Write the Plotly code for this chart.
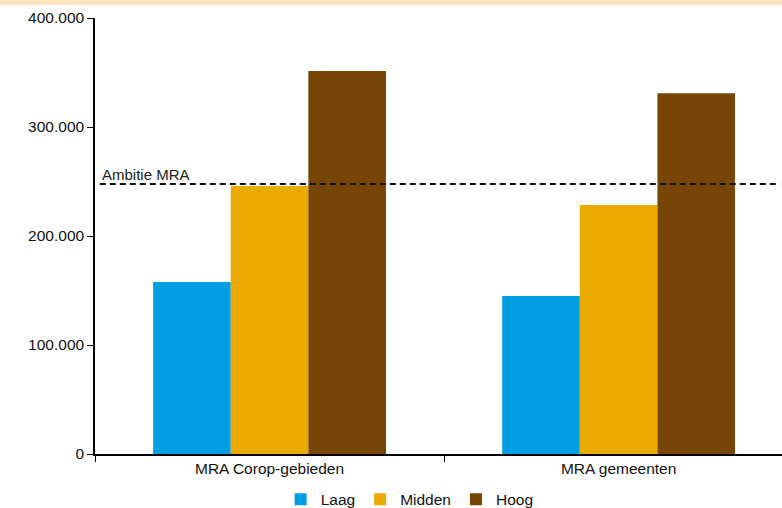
import plotly.graph_objects as go

categories = ["MRA Corop-gebieden", "MRA gemeenten"]
series_names = ["Laag", "Midden", "Hoog"]
laag = [157800, 145000]
midden = [245900, 228400]
hoog = [351400, 331000]
ambitie = 247700
ambitie_label = "Ambitie MRA"
tick_vals = [0, 100000, 200000, 300000, 400000]
tick_text = ["0", "100.000", "200.000", "300.000", "400.000"]

colors = ["#009FE3", "#EAAA00", "#774607"]
values = [laag, midden, hoog]

fig = go.Figure()
for name, vals, col in zip(series_names, values, colors):
    fig.add_trace(go.Bar(x=categories, y=vals, name=name, marker=dict(color=col, line=dict(width=0))))

fig.add_shape(type="line", xref="paper", yref="y", x0=0.007, x1=0.997, y0=ambitie, y1=ambitie,
              line=dict(color="#111111", width=2, dash="6px,4px"))
fig.add_annotation(xref="paper", yref="y", x=0.008, y=ambitie, text=ambitie_label, showarrow=False,
                   xanchor="left", yanchor="bottom", yshift=-1, font=dict(size=15, color="#222222"))
# top beige band
fig.add_shape(type="rect", xref="paper", yref="paper", x0=-0.2, x1=1.1, y0=1.0298, y1=1.06,
              fillcolor="#FCE5BD", line=dict(width=0), layer="below")

fig.update_layout(
    width=782, height=508,
    margin=dict(l=95, r=0, t=18, b=54, autoexpand=False),
    paper_bgcolor="white", plot_bgcolor="white",
    barmode="group", bargap=0.333, bargroupgap=0,
    font=dict(family="Liberation Sans, Arial, sans-serif", size=15.5, color="#111111"),
    showlegend=True,
    legend=dict(orientation="h", x=0.458, xanchor="center", y=-0.105, yanchor="middle",
                font=dict(size=15.5), itemwidth=30, tracegroupgap=0),
)
fig.update_xaxes(range=[-0.5, 1.468], showline=True, linecolor="#000000", linewidth=1.5,
                 ticks="outside", tickson="boundaries", ticklen=6, tickcolor="#000000",
                 showgrid=False, zeroline=False)
fig.update_yaxes(range=[0, 400000], tickvals=tick_vals, ticktext=tick_text, showline=True,
                 linecolor="#000000", linewidth=1.5, ticks="outside", ticklen=6, tickcolor="#000000",
                 showgrid=False, zeroline=False)

fig.write_html("out.html")
